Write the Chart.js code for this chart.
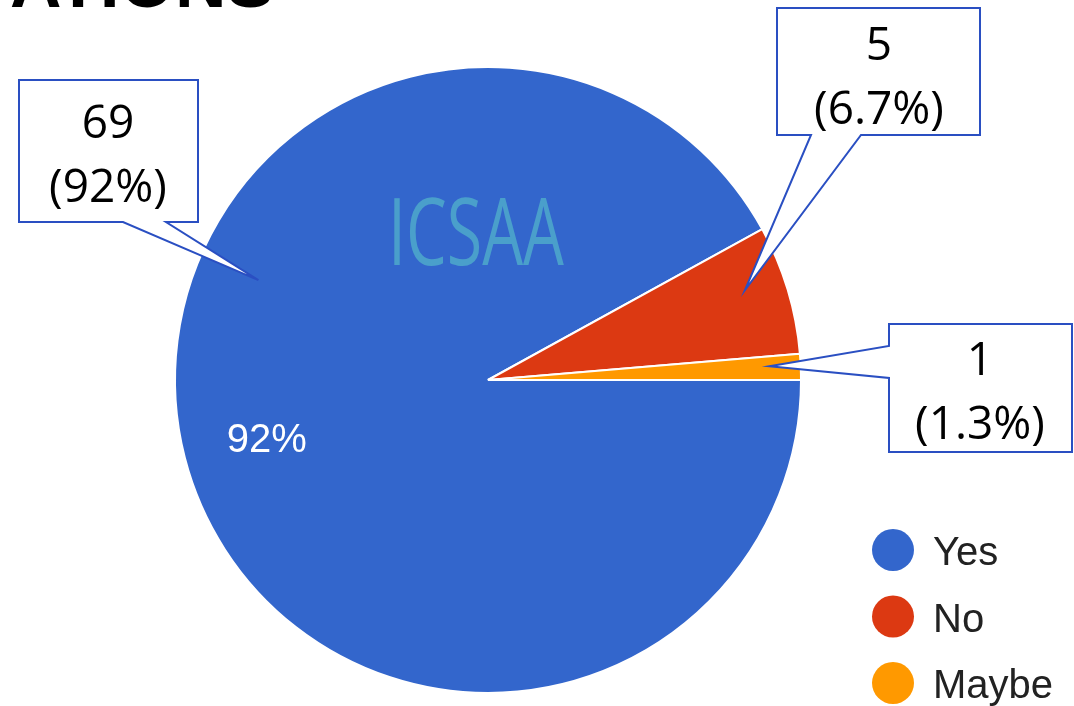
<!DOCTYPE html>
<html>
<head>
<meta charset="utf-8">
<script src="https://cdn.jsdelivr.net/npm/chart.js@4/dist/chart.umd.min.js"></script>
<style>
html, body { margin: 0; padding: 0; background: #fff; }
#wrap { width: 1074px; height: 706px; }
</style>
</head>
<body>
<div id="wrap"><canvas id="pieChart" width="1074" height="706"></canvas></div>
<script>
// data
var labels = ['Yes', 'No', 'Maybe'];
var counts = [69, 5, 1];
var colors = ['#3366cc', '#dc3912', '#ff9900'];

// callout boxes (layout only)
var callouts = [
    { index: 0, box: [19, 80, 198, 222], side: 'bottom', base: [123, 166], tipAngle: -156.5, tipR: 0.80, cx: 108, lines: [138, 202] },
    { index: 1, box: [777, 8, 980, 135], side: 'bottom', base: [811, 861], tipAngle: -19.3, tipR: 0.87, cx: 879, lines: [60, 124] },
    { index: 2, box: [889, 324, 1072, 452], side: 'left', base: [346, 378], tipAngle: -2.8, tipR: 0.90, cx: 980, lines: [375, 439] }
];

function total() {
    return counts.reduce(function (a, b) { return a + b; }, 0);
}

function pct(i) {
    return Number((counts[i] / total() * 100).toPrecision(2));
}

// 畫標註、圖例、浮水印
var extras = {
    id: 'extras',
    afterDraw: function (chart) {
        var ctx = chart.ctx;
        var arcs = chart.getDatasetMeta(0).data;

        // percent label inside big slices
        ctx.save();
        ctx.fillStyle = '#ffffff';
        ctx.font = '40px "Liberation Sans", Arial, sans-serif';
        ctx.textAlign = 'center';
        ctx.textBaseline = 'alphabetic';
        arcs.forEach(function (arc, i) {
            if (pct(i) < 10) return;
            var p = arc.getProps(['x', 'y', 'startAngle', 'endAngle', 'outerRadius'], true);
            var mid = (p.startAngle + p.endAngle) / 2;
            var r = p.outerRadius * 0.73;
            ctx.fillText(pct(i) + '%', p.x + r * Math.cos(mid), p.y + r * Math.sin(mid) + 15);
        });
        ctx.restore();

        // watermark
        ctx.save();
        ctx.font = '94px "Open Sans", sans-serif';
        ctx.fillStyle = '#4a9fcb';
        ctx.textBaseline = 'alphabetic';
        var w = ctx.measureText('ICSAA').width;
        ctx.translate(388, 265);
        ctx.scale(176 / w, 1);
        ctx.fillText('ICSAA', 0, 0);
        ctx.restore();

        // callouts
        var c0 = arcs[0].getProps(['x', 'y', 'outerRadius'], true);
        callouts.forEach(function (c) {
            var b = c.box;
            var a = c.tipAngle * Math.PI / 180;
            var tx = c0.x + c0.outerRadius * c.tipR * Math.cos(a);
            var ty = c0.y + c0.outerRadius * c.tipR * Math.sin(a);
            ctx.save();
            ctx.beginPath();
            ctx.moveTo(b[0], b[1]);
            ctx.lineTo(b[2], b[1]);
            ctx.lineTo(b[2], b[3]);
            if (c.side === 'bottom') {
                ctx.lineTo(c.base[1], b[3]);
                ctx.lineTo(tx, ty);
                ctx.lineTo(c.base[0], b[3]);
                ctx.lineTo(b[0], b[3]);
            } else {
                ctx.lineTo(b[0], b[3]);
                ctx.lineTo(b[0], c.base[1]);
                ctx.lineTo(tx, ty);
                ctx.lineTo(b[0], c.base[0]);
            }
            ctx.closePath();
            ctx.fillStyle = '#ffffff';
            ctx.fill();
            ctx.strokeStyle = '#2a4fc2';
            ctx.lineWidth = 2;
            ctx.lineJoin = 'miter';
            ctx.stroke();

            ctx.fillStyle = '#000000';
            ctx.font = '46px "Open Sans", sans-serif';
            ctx.textAlign = 'center';
            ctx.textBaseline = 'alphabetic';
            ctx.fillText(String(counts[c.index]), c.cx, c.lines[0]);
            ctx.fillText('(' + pct(c.index) + '%)', c.cx, c.lines[1]);
            ctx.restore();
        });

        // legend
        ctx.save();
        ctx.font = '40px "Liberation Sans", Arial, sans-serif';
        ctx.textAlign = 'left';
        ctx.textBaseline = 'alphabetic';
        labels.forEach(function (lab, i) {
            var y = 550 + i * 66.5;
            ctx.beginPath();
            ctx.arc(893, y, 21, 0, Math.PI * 2);
            ctx.fillStyle = colors[i];
            ctx.fill();
            ctx.fillStyle = '#222222';
            ctx.fillText(lab, 933, y + 15);
        });
        ctx.restore();

        // cut off heading at the top
        ctx.save();
        ctx.font = 'bold 72px "Liberation Sans", Arial, sans-serif';
        ctx.fillStyle = '#000000';
        var tw = ctx.measureText('ATIONS').width;
        ctx.translate(10, 7);
        ctx.scale(264 / tw, 1);
        ctx.fillText('ATIONS', 0, 0);
        ctx.restore();
    }
};

var ctx = document.getElementById('pieChart').getContext('2d');
var myChart = new Chart(ctx, {
    type: 'pie',
    data: {
        labels: labels,
        datasets: [{
            data: counts,
            backgroundColor: colors,
            borderColor: '#ffffff',
            borderWidth: 2
        }]
    },
    options: {
        responsive: false,
        animation: false,
        rotation: 90,
        radius: 313,
        layout: {
            padding: { left: 0, right: 98, top: 54, bottom: 0 }
        },
        plugins: {
            legend: { display: false },
            tooltip: { enabled: false },
            title: { display: false }
        }
    },
    plugins: [extras]
});
</script>
</body>
</html>
